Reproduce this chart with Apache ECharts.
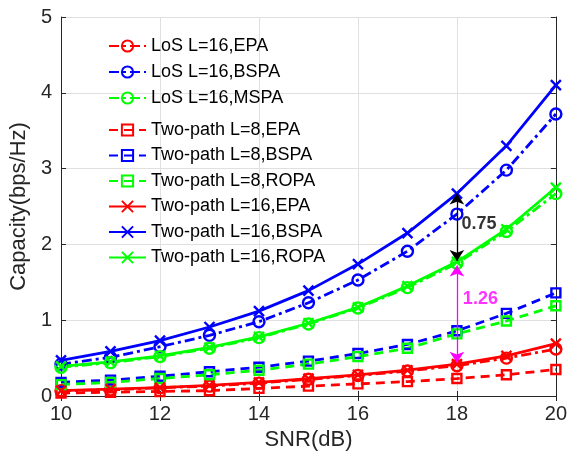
<!DOCTYPE html>
<html>
<head>
<meta charset="utf-8">
<script src="https://cdn.jsdelivr.net/npm/echarts@6/dist/echarts.min.js"></script>
<style>
  html, body { margin: 0; padding: 0; background: #fff; }
  #chart { width: 570px; height: 456px; }
</style>
</head>
<body>
<div id="chart"></div>
<script>
const snr = [10, 11, 12, 13, 14, 15, 16, 17, 18, 19, 20];

const losEPA   = [0.07, 0.08, 0.11, 0.13, 0.17, 0.22, 0.27, 0.33, 0.40, 0.50, 0.62];
const losBSPA  = [0.42, 0.51, 0.65, 0.80, 0.98, 1.23, 1.53, 1.91, 2.40, 2.98, 3.72];
const losMSPA  = [0.38, 0.44, 0.52, 0.63, 0.77, 0.95, 1.16, 1.43, 1.75, 2.17, 2.67];
const tp8EPA   = [0.04, 0.05, 0.06, 0.07, 0.10, 0.13, 0.16, 0.19, 0.23, 0.28, 0.35];
const tp8BSPA  = [0.18, 0.21, 0.26, 0.32, 0.38, 0.46, 0.56, 0.68, 0.86, 1.09, 1.36];
const tp8ROPA  = [0.15, 0.18, 0.23, 0.28, 0.34, 0.42, 0.52, 0.63, 0.82, 0.99, 1.19];
const tp16EPA  = [0.07, 0.09, 0.11, 0.14, 0.18, 0.23, 0.28, 0.34, 0.42, 0.53, 0.69];
const tp16BSPA = [0.47, 0.59, 0.73, 0.91, 1.12, 1.39, 1.74, 2.15, 2.67, 3.30, 4.10];
const tp16ROPA = [0.39, 0.45, 0.53, 0.64, 0.78, 0.96, 1.17, 1.45, 1.77, 2.20, 2.75];

const losNames = ['LoS L=16,EPA', 'LoS L=16,BSPA', 'LoS L=16,MSPA'];
const tpNames = [
    'Two-path L=8,EPA', 'Two-path L=8,BSPA', 'Two-path L=8,ROPA',
    'Two-path L=16,EPA', 'Two-path L=16,BSPA', 'Two-path L=16,ROPA'
];

// gap annotations at SNR = 18 dB: [x, from, to], label [x, y, text]
const gapArrows = [[18, 2.67, 1.78], [18, 1.72, 0.44]];
const gapLabels = [[18.05, 2.27, '0.75'], [18.08, 1.28, '1.26']];
const gapColors = ['#000000', '#ff00ff'];

const RED = '#ff0000', BLUE = '#0000ff', GREEN = '#00ff00';
const DASHDOT = [10, 4, 3, 4];
const DASHED = [9, 6];
const CROSS = 'path://M0,0L10,10M0,10L10,0';

function mk(name, values, color, dash, symbol, size) {
    return {
        name, type: 'line',
        data: snr.map((x, i) => [x, values[i]]),
        symbol, symbolSize: size,
        showAllSymbol: true,
        lineStyle: { color, width: 2.8, type: dash },
        itemStyle: { color: 'rgba(0,0,0,0)', borderColor: color, borderWidth: 2.4 },
        emphasis: { disabled: true },
        z: 3,
    };
}

const series = [
    mk(losNames[0], losEPA, RED, DASHDOT, 'circle', 11),
    mk(losNames[1], losBSPA, BLUE, DASHDOT, 'circle', 11),
    mk(losNames[2], losMSPA, GREEN, DASHDOT, 'circle', 11),
    mk(tpNames[0], tp8EPA, RED, DASHED, 'rect', 9),
    mk(tpNames[1], tp8BSPA, BLUE, DASHED, 'rect', 9),
    mk(tpNames[2], tp8ROPA, GREEN, DASHED, 'rect', 9),
    mk(tpNames[3], tp16EPA, RED, 'solid', CROSS, 10),
    mk(tpNames[4], tp16BSPA, BLUE, 'solid', CROSS, 10),
    mk(tpNames[5], tp16ROPA, GREEN, 'solid', CROSS, 10),
];

series.push({
    name: 'annot', type: 'scatter',
    symbolSize: 0,
    data: gapLabels.map((l, i) => ({
        value: [l[0], l[1]],
        label: { formatter: l[2], color: gapColors[i] },
    })),
    label: {
        show: true, position: 'right', distance: 2,
        fontFamily: 'Liberation Sans, Arial', fontSize: 18, fontWeight: 'bold',
    },
    markLine: {
        silent: true, animation: false,
        symbol: ['arrow', 'arrow'], symbolSize: 11,
        label: { show: false },
        data: gapArrows.map((a, i) => [
            { coord: [a[0], a[1]], lineStyle: { color: gapColors[i], width: 1.3, type: 'solid' } },
            { coord: [a[0], a[2]] },
        ]),
    },
    z: 5,
});

const legendCommon = {
    orient: 'vertical',
    left: 103,
    itemWidth: 37, itemHeight: 14,
    selectedMode: false,
    textStyle: { fontFamily: 'Liberation Sans, Arial', fontSize: 18, color: '#000', lineHeight: 18 },
};

const axisFont = { fontFamily: 'Liberation Sans, Arial', fontSize: 20, color: '#262626' };
const boxLine = { show: true, lineStyle: { color: '#262626', width: 1 } };
const tickIn = { show: true, inside: true, length: 5, lineStyle: { color: '#262626' } };
const grid = { show: true, lineStyle: { color: '#e0e0e0', width: 1 } };

const chart = echarts.init(document.getElementById('chart'));
chart.setOption({
    animation: false,
    backgroundColor: '#fff',
    grid: { left: 56, right: 11, top: 17, bottom: 60 },
    legend: [
        Object.assign({ top: 32, itemGap: 8, data: losNames }, legendCommon),
        Object.assign({ top: 116, itemGap: 7.5, data: tpNames }, legendCommon),
    ],
    xAxis: [{
        type: 'value', min: 10, max: 20, interval: 2,
        name: 'SNR(dB)', nameLocation: 'middle', nameGap: 33,
        nameTextStyle: { fontFamily: 'Liberation Sans, Arial', fontSize: 22, color: '#262626' },
        axisLine: boxLine, axisTick: tickIn, splitLine: grid,
        axisLabel: Object.assign({ margin: 8 }, axisFont),
    }, {
        type: 'value', min: 10, max: 20, interval: 2, position: 'top',
        axisLine: boxLine, axisTick: tickIn, splitLine: { show: false },
        axisLabel: { show: false },
    }],
    yAxis: [{
        type: 'value', min: 0, max: 5, interval: 1,
        name: 'Capacity(bps/Hz)', nameLocation: 'middle', nameGap: 24,
        nameTextStyle: { fontFamily: 'Liberation Sans, Arial', fontSize: 22, color: '#262626' },
        axisLine: boxLine, axisTick: tickIn, splitLine: grid,
        axisLabel: Object.assign({ margin: 9 }, axisFont),
    }, {
        type: 'value', min: 0, max: 5, interval: 1, position: 'right',
        axisLine: boxLine, axisTick: tickIn, splitLine: { show: false },
        axisLabel: { show: false },
    }],
    series,
});
</script>
</body>
</html>
